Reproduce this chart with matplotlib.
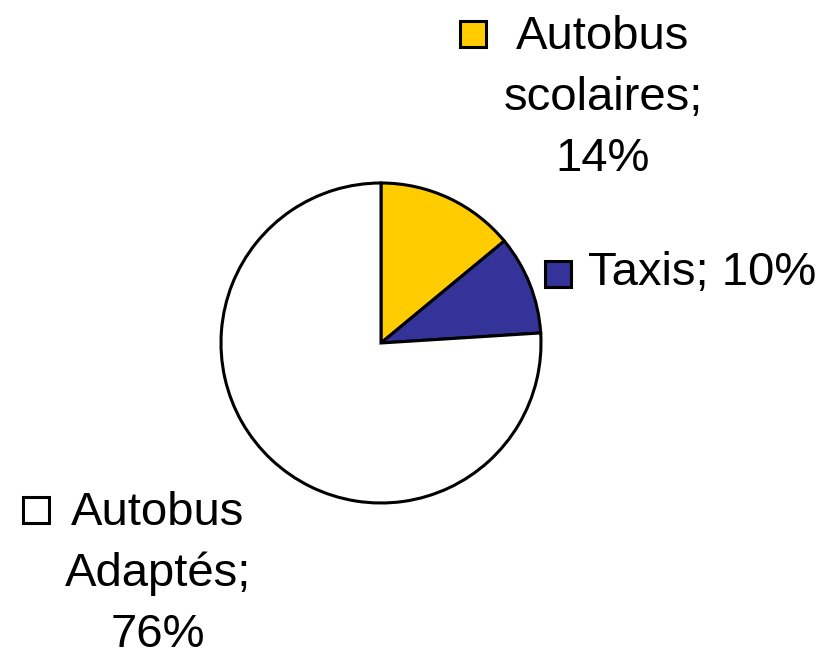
import matplotlib
matplotlib.use('Agg')
import matplotlib.pyplot as plt
from matplotlib.patches import Rectangle

plt.rcParams['font.family'] = ['Liberation Sans', 'DejaVu Sans']

# Data
categories = ["Autobus scolaires", "Taxis", "Autobus Adaptés"]
values = [14, 10, 76]
colors = ["#FFCC00", "#333399", "#FFFFFF"]

W, H = 827, 652
fig = plt.figure(figsize=(W / 100, H / 100), dpi=100)
ax = fig.add_axes([0, 0, 1, 1])

# Pie, clockwise from the top
ax.pie(values, colors=colors, startangle=90, counterclock=False,
       center=(381, H - 343), radius=160,
       wedgeprops=dict(edgecolor="black", linewidth=2.2))
ax.set_xlim(0, W)
ax.set_ylim(0, H)
ax.set_aspect('equal')
ax.axis('off')

# Label layout: (text centre x, first baseline y, wrap?, square x, square top y)
label_layout = [
    (603, 49, True, 460, 21),
    (702, 285, False, 545, 261),
    (158, 525, True, 23, 497),
]
line_step = 61
sq = 26

for cat, val, col, (cx, by, wrap, sx, sy) in zip(categories, values, colors, label_layout):
    text = f"{cat}; {val}%"
    lines = text.split(" ") if wrap else [text]
    for i, line in enumerate(lines):
        ax.text(cx, H - (by + i * line_step), line, ha='center', va='baseline',
                fontsize=34, color='black')
    ax.add_patch(Rectangle((sx, H - sy - sq), sq, sq, facecolor=col,
                           edgecolor='black', linewidth=2.2))

fig.savefig("out.png", dpi=100, facecolor='white')
